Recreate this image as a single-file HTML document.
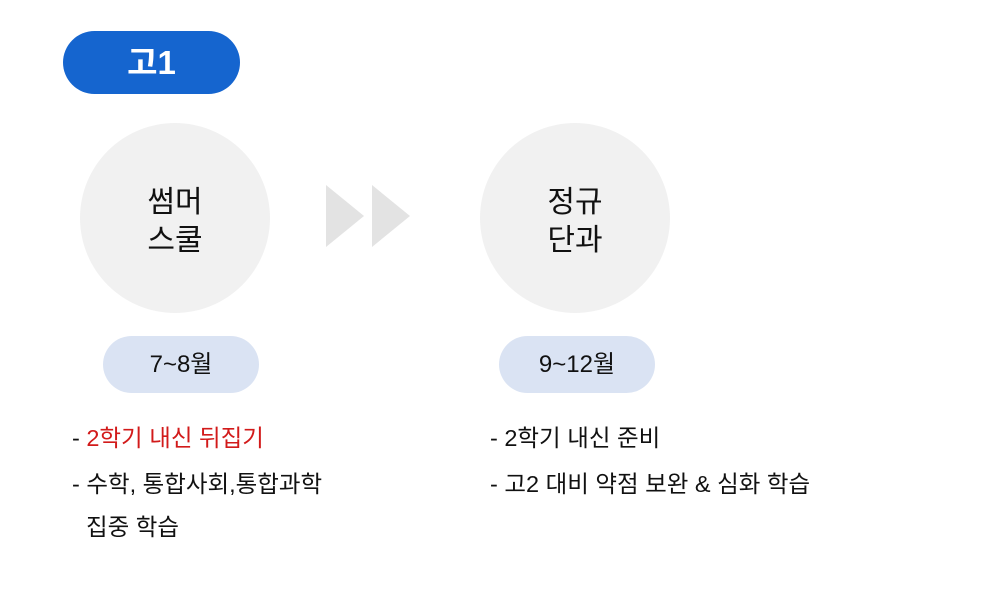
<!DOCTYPE html>
<html><head><meta charset="utf-8"><style>
body{margin:0;width:1008px;height:605px;background:#fff;position:relative;overflow:hidden;font-family:"Liberation Sans","Noto Sans CJK KR",sans-serif;color:#111}
.a{position:absolute}
.pill{left:63px;top:31px;width:177px;height:63px;border-radius:32px;background:#1565cf;color:#fff;font-weight:bold;font-size:33px;text-align:center;line-height:63px}
.c{width:190px;height:190px;border-radius:50%;background:#f1f1f1;text-align:center;font-size:30px;line-height:38px;display:flex;align-items:center;justify-content:center}
.c span{position:relative;top:4px}
.m{height:57px;border-radius:29px;background:#dae3f3;text-align:center;line-height:57px;font-size:24px}
.t{font-size:23.5px;line-height:24px}
</style></head><body>
<div class="a pill">고1</div>
<div class="a c" style="left:80px;top:123px"><span>썸머<br>스쿨</span></div>
<div class="a c" style="left:480px;top:123px"><span>정규<br>단과</span></div>
<svg class="a" style="left:326px;top:185px" width="86" height="62"><polygon points="0,0 38,31 0,62" fill="#e3e3e3"/><polygon points="46,0 84,31 46,62" fill="#e3e3e3"/></svg>
<div class="a m" style="left:103px;top:336px;width:156px">7~8월</div>
<div class="a m" style="left:499px;top:336px;width:156px">9~12월</div>
<div class="a t" style="left:72px;top:426px">- <span style="color:#d21a1a">2학기 내신 뒤집기</span></div>
<div class="a t" style="left:72px;top:472px">- 수학, 통합사회,통합과학</div>
<div class="a t" style="left:86px;top:515px">집중 학습</div>
<div class="a t" style="left:490px;top:426px">- 2학기 내신 준비</div>
<div class="a t" style="left:490px;top:472px">- 고2 대비 약점 보완 &amp; 심화 학습</div>
</body></html>
